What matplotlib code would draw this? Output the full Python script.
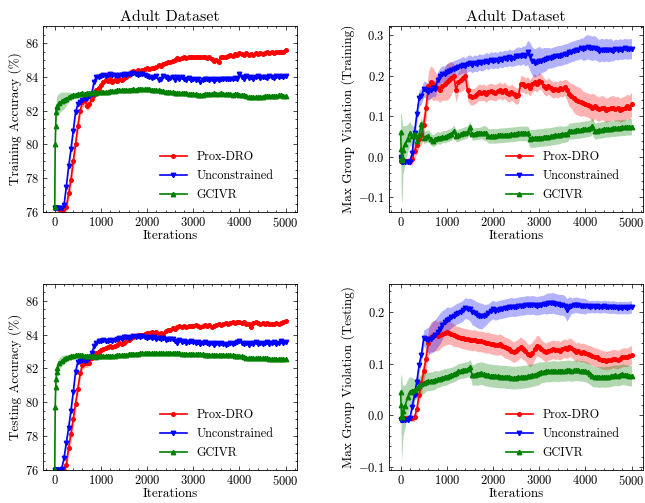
import matplotlib
matplotlib.use("Agg")
import matplotlib.pyplot as plt
import numpy as np
from matplotlib.ticker import AutoMinorLocator, MultipleLocator

plt.rcParams.update({
    "font.family": "serif",
    "font.serif": ["cmr10"],
    "mathtext.fontset": "cm",
    "axes.formatter.use_mathtext": True,
    "axes.unicode_minus": True,
    "xtick.direction": "in",
    "ytick.direction": "in",
    "xtick.top": True,
    "ytick.right": True,
    "xtick.major.size": 2.6,
    "ytick.major.size": 2.6,
    "xtick.minor.size": 1.4,
    "ytick.minor.size": 1.4,
    "xtick.major.width": 0.5,
    "ytick.major.width": 0.5,
    "xtick.minor.width": 0.5,
    "ytick.minor.width": 0.5,
    "axes.linewidth": 0.6,
    "xtick.minor.visible": True,
    "ytick.minor.visible": True,
})

# ---------------- data ----------------
iterations = [0, 10, 20, 30, 40] + list(range(50, 5001, 50))
methods = ["Prox-DRO", "Unconstrained", "GCIVR"]
title = "Adult Dataset"
ylabels = ["Training Accuracy (%)", "Max Group Violation (Training)",
           "Testing Accuracy (%)", "Max Group Violation (Testing)"]
xlabel = "Iterations"

# Panel 1: training accuracy
tr_acc_prox = [76.25, 76.25, 76.25, 76.25, 76.25,
    76.25, 76.2, 76.1, 75.9, 76.3, 77.1, 77.9, 79.0, 80.0, 81.1,
    82.0, 82.5, 82.6, 82.3, 82.4, 82.7, 82.95, 83.2, 83.35, 83.5,
    83.7, 83.8, 83.75, 83.85, 83.7, 83.8, 83.75, 83.85, 83.8, 83.95,
    84.0, 84.1, 84.3, 84.35, 84.3, 84.4, 84.35, 84.4, 84.45, 84.5,
    84.45, 84.55, 84.5, 84.6, 84.7, 84.65, 84.75, 84.8, 84.85, 84.9,
    84.95, 85.0, 85.1, 85.05, 85.1, 85.15, 85.1, 85.2, 85.15, 85.2,
    85.15, 85.2, 85.15, 85.2, 85.15, 85.1, 85.15, 85.05, 84.95, 85.0,
    84.9, 85.2, 85.15, 85.2, 85.25, 85.3, 85.25, 85.35, 85.3, 85.4,
    85.35, 85.3, 85.4, 85.3, 85.35, 85.3, 85.4, 85.35, 85.4, 85.35,
    85.4, 85.45, 85.4, 85.45, 85.4, 85.5, 85.45, 85.5, 85.5, 85.6]
tr_acc_prox_sd = [0.05, 0.05, 0.05, 0.05, 0.05,
    0.05, 0.05, 0.1, 0.2, 0.35, 0.45, 0.5, 0.5, 0.5, 0.45,
    0.4, 0.35, 0.3, 0.3, 0.3, 0.25, 0.25, 0.2, 0.2, 0.2,
    0.2, 0.15, 0.15, 0.15, 0.15, 0.15, 0.15, 0.15, 0.15, 0.15,
    0.15, 0.15, 0.15, 0.15, 0.15, 0.15, 0.15, 0.12, 0.12, 0.12,
    0.12, 0.12, 0.12, 0.12, 0.15, 0.15, 0.12, 0.12, 0.12, 0.12,
    0.12, 0.15, 0.2, 0.15, 0.12, 0.12, 0.12, 0.12, 0.12, 0.12,
    0.12, 0.12, 0.12, 0.12, 0.12, 0.12, 0.12, 0.12, 0.15, 0.15,
    0.15, 0.12, 0.12, 0.12, 0.12, 0.12, 0.12, 0.12, 0.12, 0.12,
    0.12, 0.12, 0.12, 0.12, 0.12, 0.12, 0.12, 0.12, 0.12, 0.12,
    0.12, 0.12, 0.12, 0.12, 0.12, 0.12, 0.12, 0.12, 0.12, 0.12]
tr_acc_unc = [76.25, 76.25, 76.25, 76.25, 76.25,
    76.25, 76.25, 76.25, 76.4, 77.5, 78.7, 79.7, 80.8, 81.9, 82.4,
    82.5, 82.6, 82.7, 82.75, 82.85, 83.0, 83.7, 84.0, 84.0, 84.05,
    84.1, 84.05, 84.1, 84.15, 84.1, 84.1, 84.05, 84.1, 84.1, 84.15,
    84.1, 84.15, 84.15, 84.2, 84.15, 84.1, 84.15, 84.15, 84.1, 84.05,
    84.0, 83.95, 84.0, 84.05, 83.8, 83.9, 84.05, 84.0, 83.9, 83.95,
    84.0, 83.8, 84.0, 83.85, 84.0, 83.9, 83.8, 83.95, 83.8, 83.9,
    83.8, 83.85, 83.7, 83.8, 83.9, 83.85, 83.8, 83.85, 83.75, 83.85,
    83.8, 83.85, 83.9, 83.85, 83.9, 83.85, 83.9, 83.95, 83.9, 84.15,
    84.0, 83.9, 84.05, 83.95, 84.0, 83.9, 84.0, 84.05, 83.95, 84.0,
    84.0, 83.95, 84.05, 84.0, 83.95, 84.05, 84.0, 84.05, 84.0, 84.05]
tr_acc_unc_sd = [0.05, 0.05, 0.05, 0.05, 0.05,
    0.05, 0.05, 0.05, 0.1, 0.2, 0.25, 0.25, 0.25, 0.25, 0.2,
    0.2, 0.15, 0.15, 0.15, 0.15, 0.2, 0.25, 0.15, 0.12, 0.12,
    0.1, 0.1, 0.1, 0.1, 0.1, 0.1, 0.1, 0.1, 0.1, 0.1,
    0.1, 0.1, 0.1, 0.1, 0.1, 0.1, 0.1, 0.1, 0.1, 0.1,
    0.1, 0.1, 0.1, 0.1, 0.1, 0.1, 0.1, 0.1, 0.1, 0.1,
    0.1, 0.1, 0.1, 0.1, 0.1, 0.1, 0.1, 0.1, 0.1, 0.1,
    0.1, 0.1, 0.1, 0.1, 0.1, 0.1, 0.1, 0.1, 0.1, 0.1,
    0.1, 0.1, 0.1, 0.1, 0.1, 0.1, 0.1, 0.1, 0.1, 0.12,
    0.1, 0.1, 0.1, 0.1, 0.1, 0.1, 0.1, 0.1, 0.1, 0.1,
    0.1, 0.1, 0.1, 0.1, 0.1, 0.1, 0.1, 0.1, 0.1, 0.1]
tr_acc_gc = [76.3, 80.0, 81.1, 81.9, 82.2,
    82.3, 82.45, 82.55, 82.6, 82.7, 82.8, 82.85, 82.9, 82.95, 83.0,
    83.0, 83.05, 83.0, 83.05, 83.05, 83.05, 83.1, 83.05, 83.1, 83.1,
    83.1, 83.1, 83.12, 83.15, 83.15, 83.18, 83.2, 83.2, 83.2, 83.22,
    83.22, 83.25, 83.25, 83.28, 83.25, 83.28, 83.3, 83.28, 83.3, 83.28,
    83.28, 83.25, 83.22, 83.2, 83.2, 83.15, 83.15, 83.12, 83.1, 83.1,
    83.08, 83.05, 83.05, 83.05, 83.02, 83.05, 83.03, 83.0, 83.0, 83.0,
    82.98, 82.95, 82.92, 82.95, 82.98, 83.0, 83.0, 83.0, 83.02, 83.0,
    83.0, 83.02, 83.0, 82.98, 82.98, 82.98, 82.95, 82.97, 82.97, 82.95,
    82.92, 82.9, 82.85, 82.8, 82.78, 82.78, 82.8, 82.78, 82.8, 82.82,
    82.85, 82.85, 82.85, 82.88, 82.85, 82.85, 82.9, 82.9, 82.85, 82.85]
tr_acc_gc_sd = [0.0, 0.3, 0.5, 0.6, 0.6,
    0.6, 0.6, 0.55, 0.5, 0.4, 0.3, 0.2, 0.15, 0.12, 0.1,
    0.1, 0.1, 0.1, 0.1, 0.1, 0.1, 0.1, 0.1, 0.1, 0.1,
    0.08, 0.08, 0.08, 0.08, 0.08, 0.08, 0.08, 0.08, 0.08, 0.08,
    0.08, 0.08, 0.08, 0.08, 0.08, 0.08, 0.08, 0.08, 0.08, 0.08,
    0.08, 0.08, 0.08, 0.08, 0.08, 0.08, 0.08, 0.08, 0.08, 0.08,
    0.08, 0.08, 0.08, 0.08, 0.08, 0.08, 0.08, 0.08, 0.08, 0.08,
    0.1, 0.1, 0.1, 0.1, 0.1, 0.1, 0.1, 0.1, 0.1, 0.1,
    0.1, 0.1, 0.1, 0.1, 0.1, 0.1, 0.1, 0.1, 0.1, 0.1,
    0.12, 0.12, 0.12, 0.12, 0.12, 0.12, 0.12, 0.12, 0.12, 0.12,
    0.12, 0.12, 0.12, 0.12, 0.12, 0.12, 0.12, 0.12, 0.12, 0.12]

# Panel 2: training max group violation
tr_vio_prox = [-0.01, -0.01, -0.01, -0.01, -0.01,
    -0.01, -0.01, -0.01, -0.01, -0.005, 0.015, 0.03, 0.045, 0.055, 0.08,
    0.12, 0.175, 0.185, 0.18, 0.175, 0.17, 0.165, 0.175, 0.18, 0.185,
    0.19, 0.195, 0.2, 0.165, 0.185, 0.19, 0.195, 0.2, 0.165, 0.15,
    0.148, 0.15, 0.155, 0.16, 0.158, 0.16, 0.155, 0.16, 0.162, 0.16,
    0.158, 0.162, 0.165, 0.16, 0.165, 0.158, 0.155, 0.16, 0.155, 0.15,
    0.152, 0.18, 0.18, 0.175, 0.178, 0.17, 0.18, 0.185, 0.18, 0.188,
    0.185, 0.175, 0.17, 0.175, 0.17, 0.165, 0.168, 0.165, 0.17, 0.168,
    0.172, 0.165, 0.155, 0.15, 0.145, 0.14, 0.138, 0.135, 0.132, 0.13,
    0.128, 0.125, 0.122, 0.125, 0.12, 0.118, 0.122, 0.12, 0.115, 0.118,
    0.12, 0.122, 0.118, 0.12, 0.115, 0.118, 0.12, 0.125, 0.122, 0.13]
tr_vio_prox_sd = [0.005, 0.005, 0.005, 0.005, 0.005,
    0.005, 0.005, 0.008, 0.01, 0.015, 0.02, 0.02, 0.02, 0.025, 0.03,
    0.03, 0.035, 0.04, 0.04, 0.035, 0.03, 0.03, 0.035, 0.04, 0.045,
    0.045, 0.04, 0.03, 0.03, 0.025, 0.03, 0.03, 0.03, 0.025, 0.02,
    0.02, 0.02, 0.02, 0.02, 0.02, 0.02, 0.02, 0.02, 0.02, 0.02,
    0.02, 0.02, 0.02, 0.02, 0.02, 0.02, 0.02, 0.02, 0.02, 0.02,
    0.02, 0.02, 0.02, 0.02, 0.02, 0.02, 0.02, 0.02, 0.02, 0.02,
    0.02, 0.02, 0.02, 0.02, 0.02, 0.02, 0.02, 0.02, 0.02, 0.02,
    0.02, 0.025, 0.03, 0.03, 0.035, 0.035, 0.035, 0.035, 0.03, 0.03,
    0.03, 0.03, 0.035, 0.03, 0.03, 0.03, 0.03, 0.03, 0.03, 0.03,
    0.03, 0.03, 0.03, 0.03, 0.03, 0.03, 0.03, 0.03, 0.03, 0.03]
tr_vio_unc = [0.0, -0.005, -0.01, -0.012, -0.012,
    -0.012, -0.012, -0.012, -0.012, 0.01, 0.06, 0.105, 0.145, 0.15, 0.168,
    0.165, 0.16, 0.165, 0.17, 0.168, 0.19, 0.2, 0.205, 0.205, 0.21,
    0.212, 0.215, 0.218, 0.22, 0.222, 0.225, 0.228, 0.225, 0.23, 0.232,
    0.228, 0.232, 0.23, 0.235, 0.232, 0.234, 0.238, 0.235, 0.24, 0.238,
    0.24, 0.238, 0.242, 0.24, 0.244, 0.242, 0.246, 0.243, 0.245, 0.248,
    0.25, 0.248, 0.252, 0.25, 0.258, 0.248, 0.236, 0.232, 0.235, 0.238,
    0.238, 0.24, 0.242, 0.245, 0.244, 0.246, 0.248, 0.25, 0.25, 0.252,
    0.254, 0.255, 0.258, 0.26, 0.262, 0.264, 0.265, 0.268, 0.266, 0.27,
    0.272, 0.27, 0.268, 0.27, 0.266, 0.262, 0.265, 0.263, 0.265, 0.263,
    0.265, 0.262, 0.266, 0.264, 0.267, 0.265, 0.268, 0.266, 0.267, 0.267]
tr_vio_unc_sd = [0.005, 0.005, 0.005, 0.005, 0.005,
    0.005, 0.005, 0.005, 0.008, 0.015, 0.02, 0.02, 0.02, 0.02, 0.02,
    0.02, 0.02, 0.02, 0.02, 0.02, 0.02, 0.02, 0.02, 0.02, 0.02,
    0.02, 0.02, 0.02, 0.02, 0.02, 0.02, 0.02, 0.02, 0.02, 0.02,
    0.02, 0.02, 0.02, 0.02, 0.02, 0.02, 0.02, 0.02, 0.02, 0.02,
    0.02, 0.02, 0.02, 0.02, 0.02, 0.02, 0.02, 0.02, 0.02, 0.022,
    0.022, 0.022, 0.022, 0.025, 0.03, 0.035, 0.035, 0.035, 0.035, 0.035,
    0.03, 0.03, 0.028, 0.025, 0.025, 0.025, 0.025, 0.025, 0.025, 0.025,
    0.025, 0.025, 0.025, 0.025, 0.025, 0.025, 0.025, 0.025, 0.028, 0.03,
    0.03, 0.03, 0.03, 0.03, 0.028, 0.028, 0.028, 0.028, 0.028, 0.028,
    0.028, 0.025, 0.025, 0.025, 0.025, 0.025, 0.025, 0.025, 0.025, 0.025]
tr_vio_gc = [0.062, 0.02, -0.005, -0.008, 0.0,
    0.017, 0.032, 0.045, 0.058, 0.052, 0.056, 0.04, 0.055, 0.081, 0.048,
    0.05, 0.052, 0.045, 0.04, 0.044, 0.048, 0.046, 0.05, 0.05, 0.052,
    0.054, 0.056, 0.064, 0.052, 0.054, 0.056, 0.058, 0.06, 0.062, 0.073,
    0.056, 0.057, 0.058, 0.058, 0.06, 0.06, 0.058, 0.052, 0.052, 0.052,
    0.052, 0.053, 0.053, 0.054, 0.054, 0.055, 0.055, 0.056, 0.056, 0.057,
    0.058, 0.058, 0.058, 0.058, 0.058, 0.045, 0.046, 0.046, 0.047, 0.048,
    0.048, 0.049, 0.05, 0.05, 0.051, 0.052, 0.053, 0.054, 0.055, 0.056,
    0.056, 0.057, 0.064, 0.064, 0.065, 0.066, 0.066, 0.067, 0.068, 0.069,
    0.07, 0.071, 0.076, 0.064, 0.065, 0.066, 0.067, 0.068, 0.069, 0.069,
    0.07, 0.071, 0.071, 0.072, 0.072, 0.073, 0.073, 0.074, 0.074, 0.075]
tr_vio_gc_sd = [0.045, 0.09, 0.11, 0.1, 0.08,
    0.06, 0.045, 0.035, 0.03, 0.025, 0.02, 0.02, 0.02, 0.02, 0.015,
    0.015, 0.015, 0.015, 0.015, 0.015, 0.015, 0.015, 0.015, 0.015, 0.015,
    0.015, 0.015, 0.015, 0.015, 0.015, 0.015, 0.015, 0.015, 0.015, 0.015,
    0.015, 0.015, 0.015, 0.015, 0.015, 0.018, 0.018, 0.018, 0.018, 0.018,
    0.018, 0.018, 0.018, 0.018, 0.018, 0.018, 0.018, 0.018, 0.018, 0.018,
    0.018, 0.018, 0.018, 0.018, 0.018, 0.022, 0.022, 0.022, 0.022, 0.022,
    0.022, 0.022, 0.022, 0.022, 0.022, 0.022, 0.022, 0.022, 0.022, 0.02,
    0.02, 0.02, 0.02, 0.02, 0.02, 0.02, 0.02, 0.02, 0.02, 0.02,
    0.02, 0.02, 0.02, 0.02, 0.02, 0.02, 0.02, 0.02, 0.02, 0.02,
    0.02, 0.02, 0.02, 0.02, 0.02, 0.02, 0.02, 0.02, 0.02, 0.02]

# Panel 3: testing accuracy
te_acc_prox = [75.9, 75.9, 75.9, 75.9, 75.9,
    75.9, 75.85, 75.85, 75.9, 76.3, 77.3, 78.1, 79.0, 79.9, 80.8,
    81.7, 82.2, 82.3, 82.3, 82.35, 82.6, 82.8, 82.9, 83.0, 83.1,
    83.15, 83.2, 83.25, 83.3, 83.25, 83.35, 83.4, 83.5, 83.45, 83.5,
    83.6, 83.7, 83.8, 83.85, 83.9, 83.95, 84.0, 84.0, 84.05, 84.1,
    84.1, 84.15, 84.1, 84.15, 84.05, 84.1, 84.05, 84.2, 84.25, 84.3,
    84.4, 84.35, 84.45, 84.5, 84.45, 84.5, 84.45, 84.5, 84.5, 84.5,
    84.55, 84.5, 84.45, 84.5, 84.55, 84.5, 84.55, 84.45, 84.5, 84.55,
    84.6, 84.55, 84.65, 84.7, 84.6, 84.7, 84.75, 84.7, 84.75, 84.75,
    84.7, 84.75, 84.6, 84.65, 84.45, 84.7, 84.75, 84.7, 84.65, 84.7,
    84.65, 84.7, 84.6, 84.65, 84.6, 84.7, 84.65, 84.7, 84.75, 84.8]
te_acc_prox_sd = [0.05, 0.05, 0.05, 0.05, 0.05,
    0.05, 0.05, 0.05, 0.1, 0.3, 0.45, 0.5, 0.5, 0.45, 0.4,
    0.35, 0.3, 0.25, 0.25, 0.2, 0.2, 0.15, 0.15, 0.15, 0.15,
    0.12, 0.12, 0.12, 0.12, 0.12, 0.12, 0.12, 0.12, 0.12, 0.12,
    0.12, 0.12, 0.12, 0.1, 0.1, 0.1, 0.1, 0.1, 0.1, 0.1,
    0.1, 0.1, 0.1, 0.1, 0.1, 0.1, 0.1, 0.1, 0.1, 0.1,
    0.1, 0.1, 0.1, 0.1, 0.1, 0.1, 0.1, 0.1, 0.1, 0.1,
    0.1, 0.1, 0.1, 0.1, 0.1, 0.1, 0.1, 0.1, 0.1, 0.1,
    0.1, 0.1, 0.1, 0.1, 0.1, 0.1, 0.1, 0.1, 0.1, 0.1,
    0.1, 0.1, 0.1, 0.1, 0.1, 0.1, 0.1, 0.1, 0.1, 0.1,
    0.1, 0.1, 0.1, 0.1, 0.1, 0.1, 0.1, 0.1, 0.1, 0.1]
te_acc_unc = [76.0, 76.0, 76.0, 76.0, 76.0,
    76.0, 76.0, 76.05, 76.7, 77.6, 78.5, 79.5, 80.6, 81.8, 82.4,
    82.45, 82.5, 82.45, 82.5, 82.6, 82.9, 83.3, 83.5, 83.6, 83.65,
    83.7, 83.6, 83.65, 83.7, 83.65, 83.7, 83.75, 83.8, 83.75, 83.85,
    83.85, 83.8, 83.85, 83.9, 83.85, 83.9, 83.85, 83.9, 83.85, 83.8,
    83.85, 83.8, 83.85, 83.75, 83.8, 83.75, 83.8, 83.7, 83.75, 83.75,
    83.75, 83.65, 83.5, 83.7, 83.55, 83.6, 83.5, 83.55, 83.6, 83.55,
    83.5, 83.55, 83.45, 83.5, 83.55, 83.5, 83.45, 83.5, 83.4, 83.5,
    83.45, 83.5, 83.45, 83.4, 83.45, 83.5, 83.45, 83.5, 83.55, 83.65,
    83.5, 83.45, 83.5, 83.4, 83.5, 83.45, 83.55, 83.45, 83.5, 83.45,
    83.5, 83.55, 83.45, 83.5, 83.55, 83.45, 83.5, 83.6, 83.5, 83.55]
te_acc_unc_sd = [0.05, 0.05, 0.05, 0.05, 0.05,
    0.05, 0.05, 0.05, 0.15, 0.25, 0.3, 0.3, 0.3, 0.25, 0.2,
    0.15, 0.12, 0.12, 0.12, 0.12, 0.15, 0.2, 0.15, 0.12, 0.12,
    0.1, 0.1, 0.1, 0.1, 0.1, 0.1, 0.1, 0.1, 0.1, 0.1,
    0.1, 0.1, 0.1, 0.1, 0.1, 0.1, 0.1, 0.1, 0.1, 0.1,
    0.1, 0.1, 0.1, 0.1, 0.1, 0.1, 0.1, 0.1, 0.1, 0.1,
    0.1, 0.1, 0.1, 0.1, 0.1, 0.1, 0.1, 0.1, 0.1, 0.1,
    0.1, 0.1, 0.1, 0.1, 0.1, 0.1, 0.1, 0.1, 0.1, 0.1,
    0.1, 0.1, 0.1, 0.1, 0.1, 0.1, 0.1, 0.1, 0.1, 0.1,
    0.1, 0.1, 0.1, 0.1, 0.1, 0.1, 0.1, 0.1, 0.1, 0.1,
    0.1, 0.1, 0.1, 0.1, 0.1, 0.1, 0.1, 0.1, 0.1, 0.1]
te_acc_gc = [76.0, 79.7, 80.9, 81.4, 81.8,
    82.0, 82.3, 82.45, 82.55, 82.62, 82.68, 82.72, 82.75, 82.78, 82.8,
    82.8, 82.78, 82.76, 82.75, 82.74, 82.72, 82.72, 82.7, 82.72, 82.72,
    82.72, 82.73, 82.74, 82.74, 82.75, 82.76, 82.77, 82.78, 82.78, 82.8,
    82.8, 82.84, 82.87, 82.88, 82.88, 82.88, 82.9, 82.9, 82.9, 82.9,
    82.9, 82.91, 82.92, 82.92, 82.93, 82.93, 82.92, 82.92, 82.92, 82.92,
    82.91, 82.9, 82.9, 82.89, 82.88, 82.87, 82.86, 82.86, 82.85, 82.85,
    82.84, 82.84, 82.83, 82.83, 82.82, 82.82, 82.81, 82.8, 82.8, 82.8,
    82.8, 82.79, 82.79, 82.78, 82.78, 82.77, 82.77, 82.76, 82.76, 82.75,
    82.72, 82.68, 82.64, 82.62, 82.62, 82.6, 82.6, 82.6, 82.6, 82.6,
    82.59, 82.59, 82.58, 82.58, 82.57, 82.57, 82.56, 82.56, 82.55, 82.55]
te_acc_gc_sd = [0.0, 0.25, 0.35, 0.4, 0.4,
    0.4, 0.35, 0.3, 0.25, 0.2, 0.15, 0.12, 0.1, 0.08, 0.08,
    0.06, 0.06, 0.06, 0.06, 0.06, 0.06, 0.06, 0.06, 0.06, 0.06,
    0.06, 0.06, 0.06, 0.06, 0.06, 0.06, 0.06, 0.06, 0.06, 0.06,
    0.06, 0.06, 0.06, 0.06, 0.06, 0.06, 0.06, 0.06, 0.06, 0.06,
    0.06, 0.06, 0.06, 0.06, 0.06, 0.06, 0.06, 0.06, 0.06, 0.06,
    0.06, 0.06, 0.06, 0.06, 0.06, 0.06, 0.06, 0.06, 0.06, 0.06,
    0.06, 0.06, 0.06, 0.06, 0.06, 0.06, 0.06, 0.06, 0.06, 0.06,
    0.06, 0.06, 0.06, 0.06, 0.06, 0.06, 0.06, 0.06, 0.06, 0.06,
    0.06, 0.06, 0.06, 0.06, 0.06, 0.06, 0.06, 0.06, 0.06, 0.06,
    0.06, 0.06, 0.06, 0.06, 0.06, 0.06, 0.06, 0.06, 0.06, 0.06]

# Panel 4: testing max group violation
te_vio_prox = [-0.006, -0.006, -0.006, -0.006, -0.006,
    -0.006, -0.006, -0.006, -0.006, -0.006, -0.004, 0.012, 0.04, 0.062, 0.085,
    0.11, 0.14, 0.152, 0.153, 0.155, 0.153, 0.156, 0.158, 0.16, 0.162,
    0.16, 0.158, 0.155, 0.153, 0.152, 0.15, 0.149, 0.148, 0.147, 0.146,
    0.145, 0.146, 0.144, 0.143, 0.143, 0.142, 0.14, 0.141, 0.139, 0.138,
    0.137, 0.136, 0.138, 0.135, 0.132, 0.13, 0.128, 0.125, 0.122, 0.125,
    0.128, 0.132, 0.128, 0.125, 0.118, 0.116, 0.12, 0.128, 0.135, 0.133,
    0.128, 0.124, 0.122, 0.125, 0.126, 0.128, 0.126, 0.127, 0.125, 0.128,
    0.13, 0.128, 0.132, 0.13, 0.126, 0.122, 0.124, 0.121, 0.122, 0.12,
    0.118, 0.117, 0.115, 0.113, 0.112, 0.11, 0.108, 0.107, 0.106, 0.107,
    0.108, 0.11, 0.109, 0.108, 0.11, 0.112, 0.113, 0.112, 0.115, 0.117]
te_vio_prox_sd = [0.004, 0.004, 0.004, 0.004, 0.004,
    0.004, 0.004, 0.004, 0.005, 0.006, 0.008, 0.01, 0.015, 0.02, 0.02,
    0.025, 0.025, 0.028, 0.03, 0.03, 0.028, 0.028, 0.025, 0.025, 0.025,
    0.022, 0.022, 0.022, 0.02, 0.02, 0.02, 0.02, 0.02, 0.02, 0.02,
    0.02, 0.02, 0.02, 0.02, 0.02, 0.02, 0.02, 0.02, 0.02, 0.02,
    0.02, 0.02, 0.02, 0.02, 0.02, 0.02, 0.02, 0.02, 0.02, 0.02,
    0.02, 0.02, 0.02, 0.02, 0.02, 0.022, 0.022, 0.02, 0.02, 0.02,
    0.018, 0.018, 0.018, 0.018, 0.018, 0.018, 0.018, 0.018, 0.018, 0.018,
    0.018, 0.018, 0.018, 0.018, 0.018, 0.018, 0.018, 0.018, 0.018, 0.018,
    0.018, 0.018, 0.018, 0.018, 0.018, 0.018, 0.018, 0.018, 0.018, 0.018,
    0.018, 0.018, 0.018, 0.018, 0.018, 0.018, 0.018, 0.018, 0.018, 0.018]
te_vio_unc = [-0.008, -0.008, -0.008, -0.008, -0.008,
    -0.008, -0.008, -0.008, -0.005, 0.017, 0.04, 0.065, 0.098, 0.117, 0.15,
    0.148, 0.146, 0.148, 0.152, 0.156, 0.162, 0.168, 0.175, 0.18, 0.185,
    0.187, 0.19, 0.193, 0.196, 0.198, 0.2, 0.203, 0.208, 0.206, 0.205,
    0.2, 0.198, 0.195, 0.193, 0.192, 0.193, 0.195, 0.198, 0.202, 0.205,
    0.202, 0.204, 0.205, 0.206, 0.207, 0.208, 0.209, 0.21, 0.209, 0.21,
    0.211, 0.212, 0.212, 0.213, 0.214, 0.213, 0.214, 0.213, 0.212, 0.213,
    0.214, 0.215, 0.216, 0.217, 0.217, 0.218, 0.216, 0.215, 0.214, 0.214,
    0.212, 0.204, 0.21, 0.212, 0.213, 0.214, 0.213, 0.212, 0.212, 0.211,
    0.211, 0.21, 0.211, 0.21, 0.211, 0.21, 0.21, 0.211, 0.21, 0.21,
    0.209, 0.21, 0.209, 0.208, 0.209, 0.208, 0.209, 0.208, 0.209, 0.21]
te_vio_unc_sd = [0.004, 0.004, 0.004, 0.004, 0.004,
    0.004, 0.004, 0.004, 0.006, 0.01, 0.012, 0.015, 0.015, 0.015, 0.015,
    0.02, 0.025, 0.028, 0.03, 0.03, 0.03, 0.03, 0.028, 0.025, 0.025,
    0.022, 0.02, 0.02, 0.02, 0.02, 0.02, 0.02, 0.02, 0.02, 0.022,
    0.025, 0.025, 0.025, 0.025, 0.025, 0.022, 0.02, 0.018, 0.018, 0.018,
    0.018, 0.018, 0.018, 0.018, 0.018, 0.018, 0.018, 0.018, 0.018, 0.018,
    0.018, 0.018, 0.018, 0.018, 0.018, 0.018, 0.018, 0.018, 0.018, 0.018,
    0.018, 0.018, 0.02, 0.02, 0.02, 0.02, 0.02, 0.02, 0.02, 0.02,
    0.02, 0.022, 0.02, 0.015, 0.015, 0.015, 0.015, 0.015, 0.015, 0.015,
    0.012, 0.012, 0.012, 0.012, 0.012, 0.012, 0.012, 0.012, 0.012, 0.012,
    0.012, 0.012, 0.012, 0.012, 0.012, 0.012, 0.012, 0.012, 0.012, 0.012]
te_vio_gc = [0.045, 0.02, -0.004, -0.004, 0.0,
    0.008, 0.019, 0.035, 0.045, 0.048, 0.05, 0.052, 0.056, 0.06, 0.062,
    0.065, 0.066, 0.066, 0.067, 0.069, 0.07, 0.071, 0.073, 0.074, 0.075,
    0.077, 0.078, 0.08, 0.082, 0.085, 0.086, 0.087, 0.088, 0.089, 0.093,
    0.078, 0.079, 0.08, 0.081, 0.082, 0.08, 0.079, 0.078, 0.077, 0.077,
    0.076, 0.076, 0.075, 0.075, 0.075, 0.074, 0.074, 0.073, 0.073, 0.073,
    0.074, 0.074, 0.075, 0.075, 0.076, 0.077, 0.078, 0.079, 0.08, 0.082,
    0.083, 0.084, 0.085, 0.085, 0.085, 0.086, 0.086, 0.085, 0.086, 0.086,
    0.086, 0.087, 0.087, 0.086, 0.087, 0.087, 0.087, 0.086, 0.086, 0.085,
    0.083, 0.08, 0.076, 0.075, 0.075, 0.074, 0.075, 0.074, 0.075, 0.075,
    0.076, 0.077, 0.078, 0.077, 0.078, 0.08, 0.079, 0.078, 0.077, 0.077]
te_vio_gc_sd = [0.03, 0.055, 0.085, 0.07, 0.06,
    0.05, 0.04, 0.035, 0.03, 0.025, 0.02, 0.02, 0.02, 0.02, 0.02,
    0.018, 0.018, 0.018, 0.018, 0.018, 0.016, 0.016, 0.016, 0.016, 0.016,
    0.015, 0.015, 0.015, 0.015, 0.015, 0.015, 0.015, 0.015, 0.015, 0.015,
    0.02, 0.02, 0.022, 0.022, 0.022, 0.022, 0.022, 0.022, 0.022, 0.022,
    0.022, 0.022, 0.022, 0.022, 0.022, 0.022, 0.022, 0.022, 0.022, 0.022,
    0.022, 0.022, 0.022, 0.022, 0.022, 0.022, 0.022, 0.022, 0.022, 0.022,
    0.02, 0.02, 0.02, 0.02, 0.02, 0.02, 0.02, 0.02, 0.02, 0.02,
    0.02, 0.02, 0.02, 0.02, 0.02, 0.02, 0.02, 0.02, 0.02, 0.02,
    0.02, 0.02, 0.02, 0.02, 0.02, 0.02, 0.02, 0.02, 0.02, 0.02,
    0.02, 0.02, 0.02, 0.02, 0.02, 0.02, 0.02, 0.02, 0.02, 0.02]

panels = [
    [(tr_acc_prox, tr_acc_prox_sd), (tr_acc_unc, tr_acc_unc_sd), (tr_acc_gc, tr_acc_gc_sd)],
    [(tr_vio_prox, tr_vio_prox_sd), (tr_vio_unc, tr_vio_unc_sd), (tr_vio_gc, tr_vio_gc_sd)],
    [(te_acc_prox, te_acc_prox_sd), (te_acc_unc, te_acc_unc_sd), (te_acc_gc, te_acc_gc_sd)],
    [(te_vio_prox, te_vio_prox_sd), (te_vio_unc, te_vio_unc_sd), (te_vio_gc, te_vio_gc_sd)],
]

# ---------------- styling ----------------
colors = ["red", "blue", "green"]
markers = ["o", "v", "^"]
msizes = [2.6, 3.2, 3.2]

fig, axes = plt.subplots(2, 2, figsize=(6.45, 5.03), dpi=100)
fig.subplots_adjust(left=0.067, right=0.997, top=0.948, bottom=0.066,
                    wspace=0.362, hspace=0.387)

x = np.array(iterations)
for k, ax in enumerate(axes.flat):
    for (m, s), c, mk, ms, lab in zip(panels[k], colors, markers, msizes, methods):
        m = np.array(m); s = np.array(s)
        ax.fill_between(x, m - s, m + s, color=c, alpha=0.3, lw=0)
        ax.plot(x, m, color=c, marker=mk, ms=ms, lw=1.2, label=lab)
    ax.set_xlim(-250, 5250)
    ax.xaxis.set_major_locator(MultipleLocator(1000))
    ax.xaxis.set_minor_locator(AutoMinorLocator(5))
    if k in (0, 2):
        ax.set_ylim(76, 87)
        ax.yaxis.set_major_locator(MultipleLocator(2))
        ax.yaxis.set_minor_locator(AutoMinorLocator(4))
    else:
        ax.yaxis.set_major_locator(MultipleLocator(0.1))
        ax.yaxis.set_minor_locator(AutoMinorLocator(5))
    ax.tick_params(labelsize=9, pad=3)
    ax.set_xlabel(xlabel, fontsize=9.5, labelpad=0)
    ax.set_ylabel(ylabels[k], fontsize=9.5, labelpad=2)
    if k < 2:
        ax.set_title(title, fontsize=11.5, pad=4)
    ax.legend(loc="lower right", frameon=False, fontsize=8.8,
              borderaxespad=0.5, handlelength=2.2, handletextpad=0.8,
              labelspacing=0.55, bbox_to_anchor=(0.95, 0.0))

fig.savefig("out.png", dpi=100)
